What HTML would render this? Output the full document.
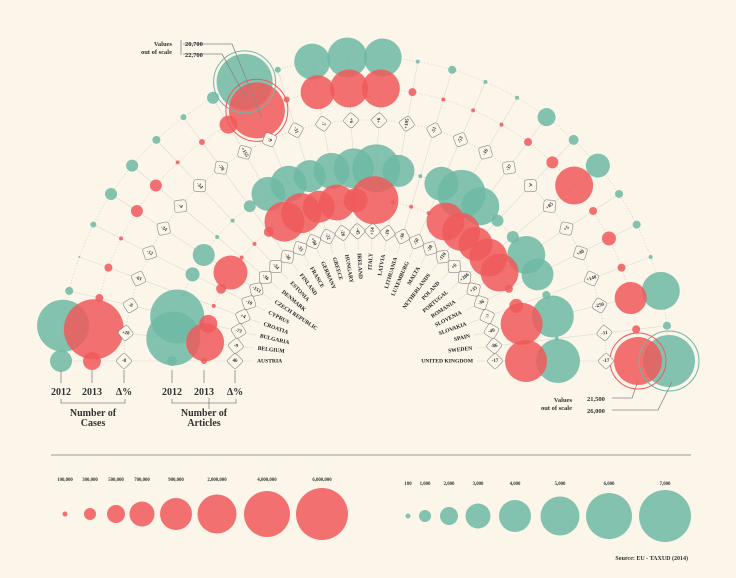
<!DOCTYPE html>
<html><head><meta charset="utf-8"><style>
html,body{margin:0;padding:0;background:#fbf5ea;}
svg{display:block;font-family:"Liberation Serif",serif;}
</style></head><body>
<svg id="s" width="736" height="578" viewBox="0 0 736 578" xmlns="http://www.w3.org/2000/svg">
<rect width="736" height="578" fill="#fbf5ea"/>
<g id="grid"></g><g id="circ"></g><g id="lab"></g>
<!-- bottom-left axis labels -->
<g font-weight="bold" font-size="10" fill="#333" text-anchor="middle">
<text x="61" y="395">2012</text><text x="92" y="395">2013</text><text x="124" y="395">Δ%</text>
<text x="172" y="395">2012</text><text x="204" y="395">2013</text><text x="235" y="395">Δ%</text>
<text x="93" y="416">Number of</text><text x="93" y="426">Cases</text>
<text x="204" y="416">Number of</text><text x="204" y="426">Articles</text>
</g>
<g stroke="#888" stroke-width="0.8" fill="none">
<path d="M61 370V383M92 370V383M124 370V383M172 370V383M204 370V383M235 370V383"/>
<path d="M61 399V403H125V399M172 399V403H236V399"/>
<path d="M181 40V55 M183 44H232L262 118 M183 54H222L246 98"/>
<path d="M209 398V409 M612 398H632L638 381 M612 410H658L672 382"/>
</g>
<g font-size="6.5" font-weight="bold" fill="#333">
<text x="172" y="46" text-anchor="end">Values</text><text x="172" y="54" text-anchor="end">out of scale</text>
<text x="185" y="46">20,700</text><text x="185" y="57">22,700</text>
<text x="572" y="402" text-anchor="end">Values</text><text x="572" y="410" text-anchor="end">out of scale</text>
<text x="587" y="401">21,500</text><text x="587" y="413">26,000</text>
</g>
<line x1="51" y1="455" x2="691" y2="455" stroke="#c9c9bd" stroke-width="2"/>
<g id="leg"></g>
<text x="688" y="560" font-size="6" font-weight="bold" fill="#333" text-anchor="end">Source: EU - TAXUD (2014)</text>
</svg>
<script>
var NS="http://www.w3.org/2000/svg";
function el(p,t,a,txt){var e=document.createElementNS(NS,t);for(var k in a)e.setAttribute(k,a[k]);if(txt!=null)e.textContent=txt;document.getElementById(p).appendChild(e);return e;}
var CX=365,CY=361;
var names=["AUSTRIA","BELGIUM","BULGARIA","CROATIA","CYPRUS","CZECH REPUBLIC","DENMARK","ESTONIA","FINLAND","FRANCE","GERMANY","GREECE","HUNGARY","IRELAND","ITALY","LATVIA","LITHUANIA","LUXEMBURG","MALTA","NETHERLANDS","POLAND","PORTUGAL","ROMANIA","SLOVENIA","SLOVAKIA","SPAIN","SWEDEN","UNITED KINGDOM"];
// outer (cases): teal 2012, red 2013
var oT=[11,26,4,1,3,6,6,4,3,6,28,3,18,20,19,2,4,2,2,9,5,12,4,4,2,19,4,26];
var oR=[9,30,4,4,2,6,6,2,3,9,28,3,17,19,19,4,2,2,2,4,6,19,4,7,4,16,4,24];
var iT=[5,27,27,1,7,11,2,2,6,17,18,16,18,20,24,16,2,17,24,19,6,6,19,16,4,21,2,22];
var iR=[3,19,9,2,5,17,2,2,5,20,20,16,18,12,24,2,2,2,19,19,17,19,19,4,7,21,2,21];
var oD=["-8","+28","-8","-61","-12","-34","-4","-34","-78","+155","-9","-31","-7","+6","+6","+105","-51","-53","-16","-37","-4","+85","+5","+40","+140","-250","-11","-17"];
var iD=["46","-9","-73","+4","-10","-153","-36","-34","-36","-35","+90","-22","-26","-45","+14","-19","-36","-50","-28","-110","+6","+286","+35","-36","-7","-40","-86","-17"];
var TE="#6db8a5",RE="#f0595b";
function P(r,i){var t=(180-i*180/27)*Math.PI/180;return [CX+r*Math.cos(t),CY-r*Math.sin(t)];}
// grid
for(var i=0;i<28;i++){var a=P(112,i),b=P(304,i);el("grid","line",{x1:a[0],y1:a[1],x2:b[0],y2:b[1],stroke:"#dedbd0","stroke-width":0.6});}
[130,161,193,241,273,304].forEach(function(r){el("grid","path",{d:"M"+(CX-r)+" "+CY+" A"+r+" "+r+" 0 0 1 "+(CX+r)+" "+CY,fill:"none",stroke:"#cfcabb","stroke-width":0.7,"stroke-dasharray":"1 2"});});
// circles
for(var i=0;i<28;i++){
 var p;
 p=P(304,i);el("circ","circle",{cx:p[0],cy:p[1],r:oT[i],fill:TE,"fill-opacity":0.85});
 p=P(193,i);el("circ","circle",{cx:p[0],cy:p[1],r:iT[i],fill:TE,"fill-opacity":0.85});
}
for(var i=0;i<28;i++){
 var p;
 p=P(273,i);el("circ","circle",{cx:p[0],cy:p[1],r:oR[i],fill:RE,"fill-opacity":0.85});
 p=P(161,i);el("circ","circle",{cx:p[0],cy:p[1],r:iR[i],fill:RE,"fill-opacity":0.85});
}
// out-of-scale rings
var g=P(304,10);el("circ","circle",{cx:g[0],cy:g[1],r:31,fill:"none",stroke:TE,"stroke-width":1});
g=P(273,10);el("circ","circle",{cx:g[0],cy:g[1],r:31,fill:"none",stroke:RE,"stroke-width":1});
g=P(304,27);el("circ","circle",{cx:g[0],cy:g[1],r:30,fill:"none",stroke:TE,"stroke-width":1});
g=P(273,27);el("circ","circle",{cx:g[0],cy:g[1],r:28,fill:"none",stroke:RE,"stroke-width":1});
// labels & delta boxes
for(var i=0;i<28;i++){
 var th=180-i*180/27,left=th>=90,rot=left?(180-th):(-th);
 var p=P(108,i);
 el("lab","text",{x:p[0],y:p[1],transform:"rotate("+rot+" "+p[0]+" "+p[1]+")","text-anchor":left?"start":"end","dominant-baseline":"middle","font-size":5.6,"font-weight":"bold",fill:"#222"},names[i]);
 [[130,iD[i]],[241,oD[i]]].forEach(function(d){
  var q=P(d[0],i);
  var gg=el("lab","g",{transform:"translate("+q[0]+" "+q[1]+") rotate("+rot+")"});
  var r=document.createElementNS(NS,"rect");r.setAttribute("x",-6);r.setAttribute("y",-6);r.setAttribute("width",12);r.setAttribute("height",12);r.setAttribute("rx",2.5);r.setAttribute("fill","#fbf5ea");r.setAttribute("stroke","#888");r.setAttribute("stroke-width","0.6");r.setAttribute("transform","rotate(45)");gg.appendChild(r);
  var t=document.createElementNS(NS,"text");t.setAttribute("text-anchor","middle");t.setAttribute("dominant-baseline","middle");t.setAttribute("font-size","5");t.setAttribute("font-weight","bold");t.setAttribute("fill","#333");t.textContent=d[1];gg.appendChild(t);
 });
}
// legends
var rr=[2.5,6,9,12.5,16,19.5,23,26];
var lx=[65,90,116,142,176,217,267,322],ll=["100,000","300,000","500,000","700,000","900,000","2,000,000","4,000,000","6,000,000"];
var tx=[408,425,449,478,515,560,609,665],tl=["100","1,000","2,000","3,000","4,000","5,000","6,000","7,000"];
for(var i=0;i<8;i++){
 el("leg","circle",{cx:lx[i],cy:514,r:rr[i],fill:RE,"fill-opacity":0.85});
 el("leg","text",{x:lx[i],y:481,"text-anchor":"middle","font-size":4.8,"font-weight":"bold",fill:"#333"},ll[i]);
 el("leg","circle",{cx:tx[i],cy:516,r:rr[i],fill:TE,"fill-opacity":0.85});
 el("leg","text",{x:tx[i],y:485,"text-anchor":"middle","font-size":4.8,"font-weight":"bold",fill:"#333"},tl[i]);
}
</script>
</body></html>
